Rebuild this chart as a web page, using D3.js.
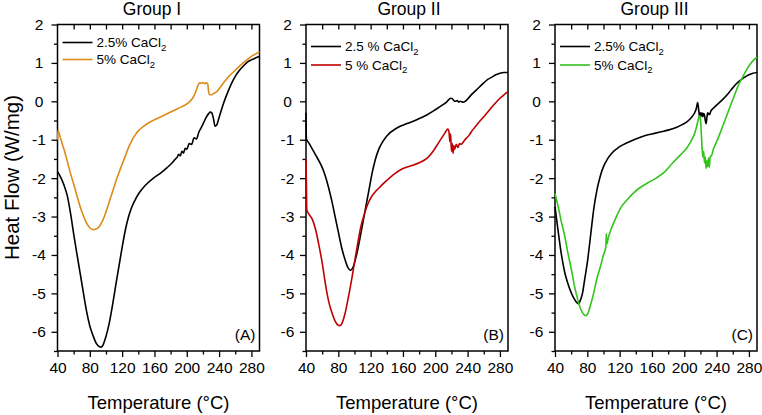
<!DOCTYPE html>
<html>
<head>
<meta charset="utf-8">
<script src="https://cdn.jsdelivr.net/npm/d3@7"></script>
<style>
  html, body { margin: 0; padding: 0; background: #fff; }
  svg { display: block; font-family: "Liberation Sans", Arial, sans-serif; }
</style>
</head>
<body>
<svg id="chart" width="762" height="415"></svg>
<script>
// ---------------- DATA ----------------
const groupTitles = ["Group I", "Group II", "Group III"];
const panelTags = ["(A)", "(B)", "(C)"];
const legendLow = ["2.5% CaCl", "2.5 % CaCl", "2.5% CaCl"];
const legendHigh = ["5% CaCl", "5 % CaCl", "5% CaCl"];
const seriesColors = ["#000000", "#DD8A1A", "#000000", "#C00000", "#000000", "#33C41C"];
const xTickValues = [40, 80, 120, 160, 200, 240, 280];
const yTickValues = [2, 1, 0, -1, -2, -3, -4, -5, -6];
const xDomain = [40, 290];
const yDomain = [-6.5, 2];

// Group I, 2.5% CaCl2
const tempA1 = [40,44,48,52,56,60,64,68,72,76,80,84,88,92,94,96,100,104,108,112,116,120,124,128,132,136,140,146,152,160,168,176,182,186,188,190,192,194,196,198,200,203,206,209,212,215,218,221,224,227,229,231,233,235,237,240,245,250,255,260,265,270,275,280,285,290];
const flowA1 = [-1.83,-1.98,-2.18,-2.45,-2.9,-3.45,-3.97,-4.47,-4.98,-5.47,-5.85,-6.1,-6.3,-6.39,-6.4,-6.36,-6.12,-5.78,-5.32,-4.8,-4.3,-3.8,-3.35,-3.0,-2.75,-2.57,-2.42,-2.25,-2.12,-1.98,-1.86,-1.72,-1.6,-1.5,-1.46,-1.38,-1.42,-1.3,-1.35,-1.22,-1.25,-1.1,-1.12,-0.95,-0.98,-0.8,-0.68,-0.55,-0.42,-0.32,-0.28,-0.3,-0.45,-0.65,-0.62,-0.42,-0.08,0.2,0.45,0.65,0.8,0.92,1.02,1.08,1.13,1.17];
// Group I, 5% CaCl2
const tempA2 = [40,40.6,44,48,52,56,60,64,68,72,76,80,84,88,92,96,100,104,108,112,116,120,124,128,132,136,140,146,152,160,170,180,190,200,205,209,212,214,216,218,220,222,224,226,227,228,230,233,237,242,247,252,257,262,268,274,280,285,290];
const flowA2 = [-1.0,-0.76,-0.98,-1.25,-1.55,-1.87,-2.15,-2.45,-2.74,-2.98,-3.17,-3.29,-3.34,-3.32,-3.25,-3.1,-2.88,-2.62,-2.36,-2.1,-1.86,-1.64,-1.42,-1.2,-1.02,-0.88,-0.77,-0.66,-0.57,-0.48,-0.38,-0.28,-0.18,-0.07,0.02,0.15,0.3,0.42,0.48,0.47,0.49,0.46,0.48,0.45,0.25,0.18,0.17,0.2,0.25,0.38,0.52,0.65,0.75,0.85,0.97,1.07,1.17,1.23,1.29];
// Group II, 2.5 % CaCl2
const tempB1 = [40,40.5,44,48,52,56,60,64,68,72,76,80,84,88,92,95,98,102,106,110,114,118,122,126,130,135,140,152,165,177,190,200,210,214,217,219,221,223,225,227,229,231,234,237,240,245,250,255,260,265,270,275,280,285,290];
const flowB1 = [-0.3,-0.98,-1.1,-1.25,-1.4,-1.55,-1.72,-1.95,-2.25,-2.6,-3.0,-3.4,-3.8,-4.1,-4.33,-4.4,-4.33,-4.05,-3.65,-3.2,-2.75,-2.3,-1.85,-1.5,-1.25,-1.05,-0.9,-0.7,-0.58,-0.48,-0.35,-0.22,-0.08,-0.02,0.05,0.08,0.07,0.02,0.0,0.02,-0.02,0.0,-0.02,0.0,0.06,0.18,0.28,0.38,0.48,0.57,0.63,0.69,0.73,0.75,0.75];
// Group II, 5 % CaCl2
const tempB2 = [40,40.5,41,44,48,52,56,60,64,68,72,76,80,82,84,88,92,96,100,104,108,112,116,120,126,132,140,150,160,170,180,190,198,204,208,212,214,215.5,217,218,219,220,221,222,223,224,226,228,230,232,234,236,239,242,246,250,255,260,265,270,275,280,285,290];
const flowB2 = [-1.5,-2.2,-2.82,-2.95,-3.08,-3.35,-3.75,-4.2,-4.75,-5.2,-5.5,-5.72,-5.83,-5.84,-5.8,-5.55,-5.15,-4.7,-4.2,-3.7,-3.25,-2.95,-2.7,-2.52,-2.35,-2.22,-2.06,-1.88,-1.75,-1.68,-1.6,-1.48,-1.28,-1.08,-0.95,-0.82,-0.75,-0.72,-0.8,-1.05,-0.85,-1.3,-1.1,-1.35,-1.15,-1.25,-1.12,-1.2,-1.1,-1.12,-1.08,-1.02,-0.95,-0.88,-0.75,-0.65,-0.52,-0.4,-0.28,-0.15,-0.03,0.08,0.17,0.25];
// Group III, 2.5% CaCl2
const tempC1 = [40,44,48,52,56,60,64,67,69,71,74,77,80,84,88,92,96,100,105,110,120,130,140,150,160,170,180,190,198,204,208,212,215,216.5,218,219,220,221,222,223,224,225,226,227,228,229,231,233,236,240,245,250,255,260,265,270,275,280,285,290];
const flowC1 = [-2.75,-3.4,-4.0,-4.45,-4.75,-4.98,-5.15,-5.24,-5.27,-5.2,-5.0,-4.6,-4.2,-3.5,-2.8,-2.3,-1.95,-1.7,-1.5,-1.36,-1.18,-1.07,-0.98,-0.9,-0.85,-0.8,-0.75,-0.68,-0.6,-0.52,-0.44,-0.33,-0.18,-0.03,-0.25,-0.42,-0.3,-0.38,-0.3,-0.4,-0.32,-0.36,-0.5,-0.58,-0.42,-0.3,-0.35,-0.25,-0.18,-0.1,0.0,0.1,0.22,0.35,0.47,0.56,0.63,0.69,0.73,0.75];
// Group III, 5% CaCl2
const tempC2 = [40,44,48,52,56,60,64,68,72,76,78,80,84,88,92,96,100,103,103.5,104,106,110,116,122,130,137,145,155,165,175,185,195,203,208,212,215,217,219,220,221,222,223,224,225,226,227,228,229,230,231,232,234,236,239,243,247,252,257,262,267,272,277,282,286,290];
const flowC2 = [-2.4,-2.75,-3.15,-3.5,-3.95,-4.35,-4.8,-5.15,-5.42,-5.56,-5.58,-5.55,-5.3,-4.98,-4.6,-4.32,-4.0,-3.78,-3.45,-3.72,-3.55,-3.3,-3.0,-2.75,-2.55,-2.39,-2.25,-2.12,-2.0,-1.85,-1.62,-1.4,-1.22,-1.05,-0.88,-0.68,-0.5,-0.38,-0.45,-0.8,-1.2,-1.45,-1.3,-1.6,-1.45,-1.75,-1.55,-1.7,-1.48,-1.72,-1.45,-1.4,-1.25,-1.1,-0.9,-0.68,-0.4,-0.12,0.15,0.42,0.62,0.82,0.98,1.08,1.15];

const panelSeries = [
  [[tempA1, flowA1], [tempA2, flowA2]],
  [[tempB1, flowB1], [tempB2, flowB2]],
  [[tempC1, flowC1], [tempC2, flowC2]]
];

// ---------------- LAYOUT ----------------
const svg = d3.select("#chart");
const panelX = [[57.5, 259.5], [306, 508], [555, 757]];
const plotTop = 24.5, plotBottom = 351;
const titleX = [152, 409, 654.5];
const legendY = [[42.5, 59.5], [46.5, 65], [46.5, 65]];

const y = d3.scaleLinear().domain(yDomain).range([plotBottom, plotTop]);

panelX.forEach((px, i) => {
  const x = d3.scaleLinear().domain(xDomain).range(px);
  const g = svg.append("g");

  // minor bottom ticks
  g.append("g").attr("transform", `translate(0,${plotBottom})`)
    .call(d3.axisBottom(x).tickValues(d3.range(60, 290, 40)).tickSize(3.5).tickSizeOuter(0).tickFormat(""))
    .call(a => a.select(".domain").remove());
  // major bottom ticks + labels
  g.append("g").attr("transform", `translate(0,${plotBottom})`)
    .call(d3.axisBottom(x).tickValues(xTickValues).tickSize(6).tickSizeOuter(0).tickPadding(5).tickFormat(d => String(d)))
    .call(a => a.select(".domain").remove())
    .call(a => a.selectAll("text").attr("font-size", 15.5).attr("fill", "#000").attr("font-family", "Liberation Sans, Arial, sans-serif"));
  // top inward ticks
  g.append("g").attr("transform", `translate(0,${plotTop})`)
    .call(d3.axisBottom(x).tickValues(d3.range(60, 290, 20)).tickSize(5).tickSizeOuter(0).tickFormat(""))
    .call(a => a.select(".domain").remove());
  // minor left ticks
  g.append("g").attr("transform", `translate(${px[0]},0)`)
    .call(d3.axisLeft(y).tickValues(d3.range(-6.5, 2, 1)).tickSize(3.5).tickSizeOuter(0).tickFormat(""))
    .call(a => a.select(".domain").remove());
  // major left ticks + labels
  g.append("g").attr("transform", `translate(${px[0]},0)`)
    .call(d3.axisLeft(y).tickValues(yTickValues).tickSize(6).tickSizeOuter(0).tickFormat(d => String(d)))
    .call(a => a.select(".domain").remove())
    .call(a => a.selectAll("text").attr("font-size", 15.5).attr("fill", "#000")
      .attr("font-family", "Liberation Sans, Arial, sans-serif")
      .attr("text-anchor", "middle").attr("x", -18.5));
  g.selectAll(".tick line").attr("stroke", "#000").attr("stroke-width", 1.3);

  // frame
  g.append("rect").attr("x", px[0]).attr("y", plotTop)
    .attr("width", px[1] - px[0]).attr("height", plotBottom - plotTop)
    .attr("fill", "none").attr("stroke", "#000").attr("stroke-width", 1.5);

  // curves
  const line = d3.line().x(d => x(d[0])).y(d => y(d[1])).curve(d3.curveMonotoneX);
  panelSeries[i].forEach((s, j) => {
    const pts = s[0].map((t, k) => [t, s[1][k]]);
    g.append("path").datum(pts).attr("d", line)
      .attr("fill", "none").attr("stroke", seriesColors[i * 2 + j])
      .attr("stroke-width", 1.6).attr("stroke-linejoin", "round");
  });

  // legend
  const legTexts = [legendLow[i], legendHigh[i]];
  legTexts.forEach((t, j) => {
    const ly = legendY[i][j];
    g.append("line").attr("x1", px[0] + 5).attr("x2", px[0] + 35)
      .attr("y1", ly).attr("y2", ly)
      .attr("stroke", seriesColors[i * 2 + j]).attr("stroke-width", 1.6);
    const tx = g.append("text").attr("x", px[0] + 39).attr("y", ly + 4.5)
      .attr("font-size", 13.5).attr("fill", "#000");
    tx.append("tspan").text(t);
    tx.append("tspan").attr("font-size", 9.5).attr("dy", 3.5).text("2");
  });

  // title
  g.append("text").attr("x", titleX[i]).attr("y", 15)
    .attr("text-anchor", "middle").attr("font-size", 17.5).attr("fill", "#000").text(groupTitles[i]);

  // panel tag
  g.append("text").attr("x", px[1] - 4).attr("y", 340)
    .attr("text-anchor", "end").attr("font-size", 15.5).attr("fill", "#000").text(panelTags[i]);

  // x axis title
  g.append("text").attr("x", (px[0] + px[1]) / 2).attr("y", 409)
    .attr("text-anchor", "middle").attr("font-size", 18.5).attr("fill", "#000").text("Temperature (°C)");
});

// y axis title
svg.append("text").attr("transform", "translate(19,177.5) rotate(-90)")
  .attr("text-anchor", "middle").attr("font-size", 20.5).attr("fill", "#000").text("Heat Flow (W/mg)");
</script>
</body>
</html>
